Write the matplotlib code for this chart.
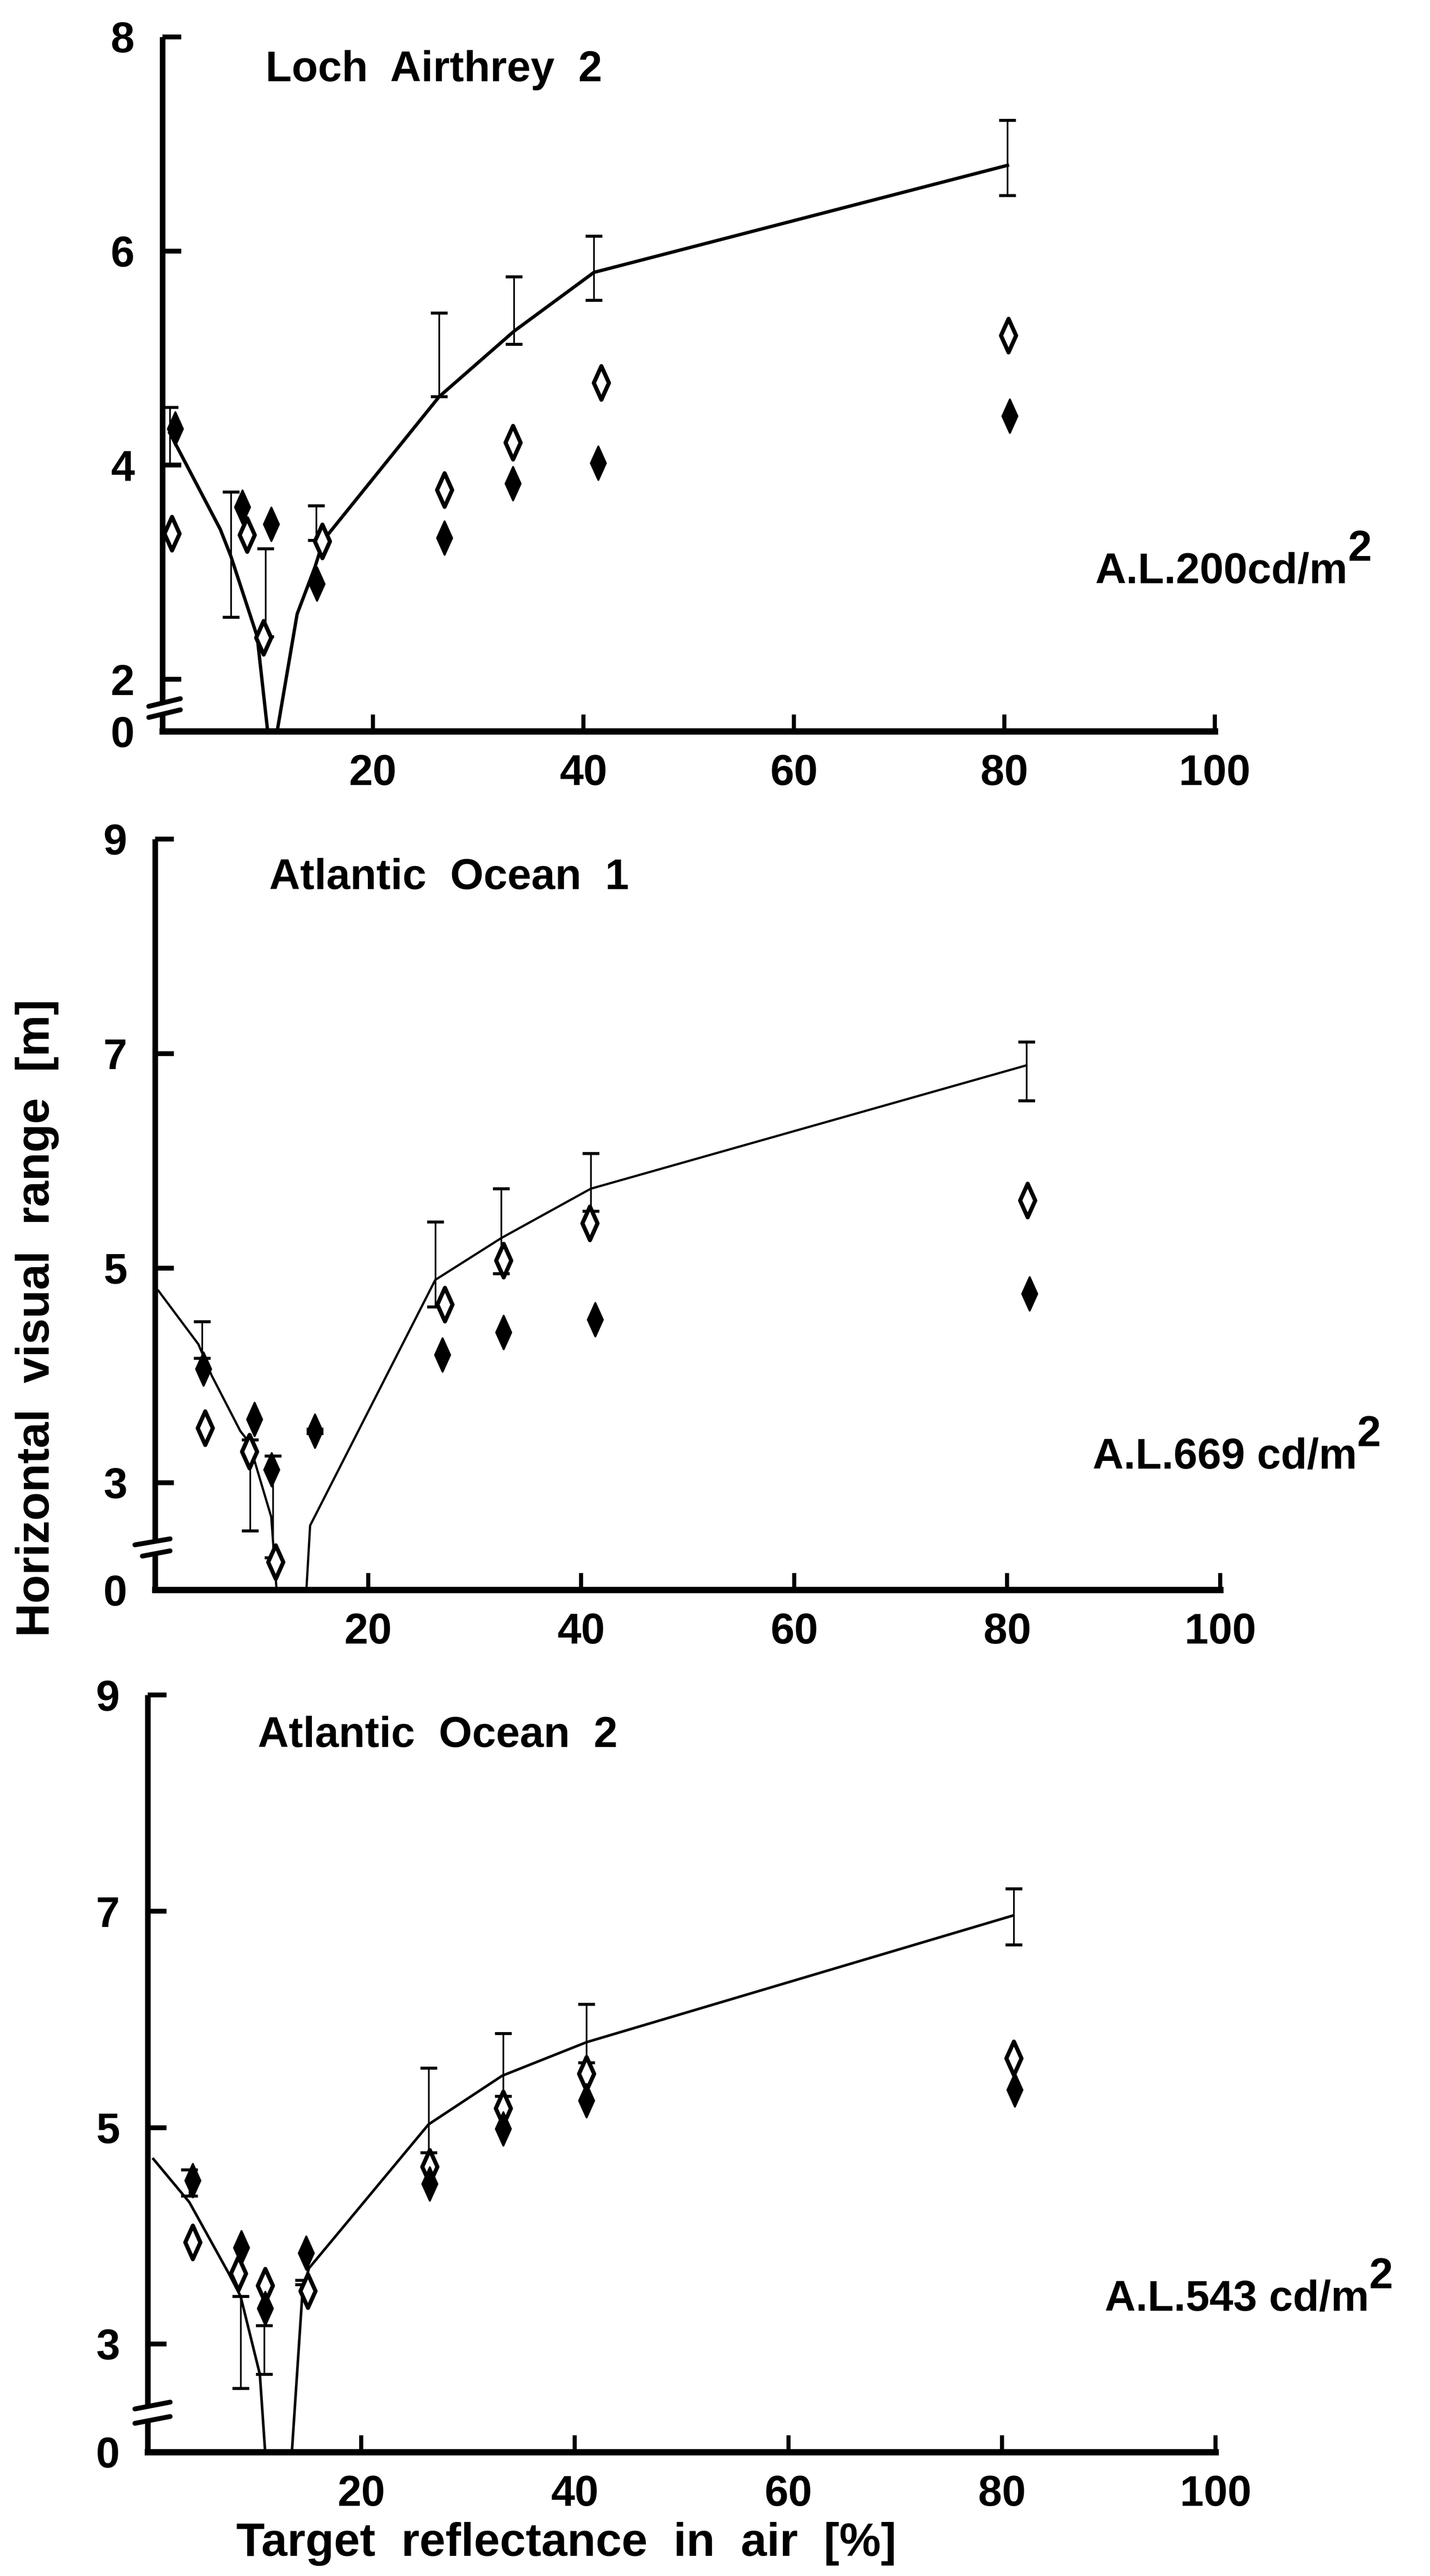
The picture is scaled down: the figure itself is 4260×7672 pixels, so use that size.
import numpy as np
import matplotlib
matplotlib.use("Agg")
import matplotlib.pyplot as plt
from matplotlib.path import Path

plt.rcParams['font.family'] = ['Liberation Sans', 'DejaVu Sans']
plt.rcParams['font.weight'] = 'bold'

# ---- data (target reflectance %, horizontal visual range m) ----
# Loch Airthrey 2
la_line_x = [0.7, 5.5, 6.5, 9.0, 10.0, 10.9, 12.8, 14.5, 15.3, 26.3, 33.4, 41.0, 80.3]
la_line_y = [4.30, 3.40, 3.15, 2.40, 0.0, 0.0, 2.61, 3.05, 3.30, 4.64, 5.25, 5.80, 6.80]
la_err_x = [0.7, 6.5, 9.8, 14.6, 26.3, 33.4, 41.0, 80.3]
la_err_lo = [4.01, 2.58, 2.40, 3.30, 4.64, 5.13, 5.54, 6.52]
la_err_hi = [4.54, 3.75, 3.22, 3.62, 5.42, 5.76, 6.14, 7.22]
la_open_x = [0.9, 8.05, 9.6, 15.2, 26.8, 33.3, 41.7, 80.4]
la_open_y = [3.36, 3.35, 2.39, 3.29, 3.77, 4.21, 4.77, 5.21]
la_fill_x = [1.2, 7.6, 10.35, 14.66, 26.8, 33.3, 41.4, 80.5]
la_fill_y = [4.34, 3.61, 3.45, 2.89, 3.32, 3.83, 4.02, 4.46]

# Atlantic Ocean 1
ao1_line_x = [0.3, 4.06, 5.3, 8.0, 8.8, 10.9, 11.4, 14.2, 14.55, 26.3, 32.5, 40.9, 81.8]
ao1_line_y = [4.79, 4.29, 4.00, 3.48, 3.38, 2.04, 0.0, 0.0, 1.80, 4.89, 5.28, 5.74, 6.89]
ao1_err_x = [4.4, 8.9, 11.06, 15.0, 26.3, 32.5, 40.9, 81.8]
ao1_err_lo = [4.16, 1.65, 0.90, 3.46, 4.64, 4.95, 5.53, 6.56]
ao1_err_hi = [4.50, 3.40, 3.25, 3.50, 5.43, 5.74, 6.07, 7.11]
ao1_open_x = [4.68, 8.84, 11.3, 27.2, 32.7, 40.8, 81.9]
ao1_open_y = [3.51, 3.29, 0.78, 4.66, 5.07, 5.42, 5.63]
ao1_fill_x = [4.54, 9.32, 10.94, 15.0, 26.97, 32.7, 41.3, 82.1]
ao1_fill_y = [4.06, 3.59, 3.12, 3.48, 4.19, 4.40, 4.52, 4.76]

# Atlantic Ocean 2
ao2_line_x = [0.53, 3.9, 7.6, 8.7, 10.5, 11.0, 13.5, 14.5, 15.1, 26.3, 33.2, 41.1, 81.0]
ao2_line_y = [4.71, 4.31, 3.65, 3.44, 2.16, 0.0, 0.0, 3.49, 3.70, 5.03, 5.48, 5.79, 6.96]
ao2_err_x = [3.9, 8.7, 10.9, 14.6, 26.3, 33.3, 41.1, 81.1]
ao2_err_lo = [4.37, 1.77, 2.16, 3.55, 4.77, 5.29, 5.60, 6.69]
ao2_err_hi = [4.61, 3.44, 3.17, 3.59, 5.55, 5.87, 6.14, 7.21]
ao2_open_x = [4.2, 8.5, 11.0, 15.0, 26.4, 33.3, 41.1, 81.1]
ao2_open_y = [3.94, 3.65, 3.54, 3.49, 4.64, 5.18, 5.50, 5.64]
ao2_fill_x = [4.2, 8.78, 11.0, 14.84, 26.4, 33.3, 41.1, 81.2]
ao2_fill_y = [4.51, 3.89, 3.33, 3.84, 4.48, 4.99, 5.25, 5.35]

titles = ['Loch  Airthrey  2', 'Atlantic  Ocean  1', 'Atlantic  Ocean  2']
lum_labels = ['A.L.200cd/m', 'A.L.669 cd/m', 'A.L.543 cd/m']
x_ticks = [20, 40, 60, 80, 100]
y_ticks = [[0, 2, 4, 6, 8], [0, 3, 5, 7, 9], [0, 3, 5, 7, 9]]


def broken_scale(b, k):
    # values below b are squeezed (axis break)
    def fwd(y):
        y = np.asarray(y, dtype=float)
        return np.where(y >= b, y, b - (b - y) * k)

    def inv(s):
        s = np.asarray(s, dtype=float)
        return np.where(s >= b, s, b - (b - s) / k)
    return fwd, inv


diamond = Path([(0, 1), (0.45, 0), (0, -1), (-0.45, 0), (0, 1)],
               [Path.MOVETO, Path.LINETO, Path.LINETO, Path.LINETO, Path.CLOSEPOLY])

fig = plt.figure(figsize=(10.65, 19.18), dpi=400)

panels = [
    dict(rect=[0.1136, 0.7161, 0.7359, 0.2696], brk=(2, 0.243), ymax=8,
         line=(la_line_x, la_line_y), err=(la_err_x, la_err_lo, la_err_hi),
         op=(la_open_x, la_open_y), fl=(la_fill_x, la_fill_y), lw=1.8,
         title_pos=(0.098, 0.952), lum_pos=(0.766, 0.778),
         breaks=[(-0.013, 0.036, 0.017, 0.047), (-0.013, 0.020, 0.017, 0.031)], gap=(0.026, 0.042)),
    dict(rect=[0.1085, 0.3828, 0.7448, 0.2915], brk=(3, 1 / 3), ymax=9,
         line=(ao1_line_x, ao1_line_y), err=(ao1_err_x, ao1_err_lo, ao1_err_hi),
         op=(ao1_open_x, ao1_open_y), fl=(ao1_fill_x, ao1_fill_y), lw=1.2,
         title_pos=(0.107, 0.948), lum_pos=(0.764, 0.4343),
         breaks=[(-0.019, 0.060, 0.014, 0.068), (-0.012, 0.045, 0.014, 0.052)], gap=(0.05, 0.065)),
    dict(rect=[0.1033, 0.0481, 0.7467, 0.2939], brk=(3, 1 / 3), ymax=9,
         line=(ao2_line_x, ao2_line_y), err=(ao2_err_x, ao2_err_lo, ao2_err_hi),
         op=(ao2_open_x, ao2_open_y), fl=(ao2_fill_x, ao2_fill_y), lw=1.4,
         title_pos=(0.103, 0.946), lum_pos=(0.7725, 0.1074),
         breaks=[(-0.012, 0.057, 0.021, 0.066), (-0.012, 0.038, 0.021, 0.047)], gap=(0.043, 0.062)),
]

for i, p in enumerate(panels):
    ax = fig.add_axes(p['rect'])
    fwd, inv = broken_scale(*p['brk'])
    ax.set_yscale('function', functions=(fwd, inv))
    ax.set_xlim(0, 100)
    ax.set_ylim(0, p['ymax'])

    ax.plot(p['line'][0], p['line'][1], color='black', lw=p['lw'], clip_on=False, zorder=3)

    ex, elo, ehi = (np.array(a) for a in p['err'])
    ax.errorbar(ex, (elo + ehi) / 2, yerr=(ehi - elo) / 2, fmt='none', ecolor='black',
                elinewidth=0.9, capsize=4.5, capthick=1.6, zorder=3)

    ax.plot(p['op'][0], p['op'][1], ls='none', marker=diamond, ms=18,
            mfc='white', mec='black', mew=2.2, zorder=4)
    ax.plot(p['fl'][0], p['fl'][1], ls='none', marker=diamond, ms=18,
            mfc='black', mec='black', mew=1.0, zorder=4)

    # axes styling
    for s in ['top', 'right', 'left']:
        ax.spines[s].set_visible(False)
    ax.spines['bottom'].set_linewidth(3.4)
    g0, g1 = p['gap']
    ax.plot([0, 0], [g1, 1], transform=ax.transAxes, color='black', lw=3.0,
            clip_on=False, solid_capstyle='butt')
    ax.plot([0, 0], [0, g0], transform=ax.transAxes, color='black', lw=3.0,
            clip_on=False, solid_capstyle='butt')
    for x0, y0, x1, y1 in p['breaks']:
        ax.plot([x0, x1], [y0, y1], transform=ax.transAxes, color='black', lw=2.6,
                clip_on=False, solid_capstyle='round')

    ax.set_xticks(x_ticks)
    ax.set_xticklabels([str(t) for t in x_ticks])
    ax.set_yticks(y_ticks[i])
    ax.set_yticklabels([str(t) for t in y_ticks[i]])
    ax.minorticks_off()
    ax.tick_params(axis='x', direction='in', length=9, width=2.2, pad=12, labelsize=23)
    ax.tick_params(axis='y', direction='in', length=10, width=2.6, pad=15, labelsize=23)
    for lab in ax.get_xticklabels() + ax.get_yticklabels():
        lab.set_fontweight('bold')

    ax.text(p['title_pos'][0], p['title_pos'][1], titles[i], transform=ax.transAxes,
            ha='left', va='center', fontsize=23, fontweight='bold')
    t = fig.text(p['lum_pos'][0], p['lum_pos'][1], lum_labels[i], ha='left', va='center',
                 fontsize=23, fontweight='bold')
    ax.annotate('2', xy=(1.0, 0.55), xycoords=t, ha='left', va='bottom',
                fontsize=23, fontweight='bold', annotation_clip=False)

fig.text(0.026, 0.4883, 'Horizontal  visual  range  [m]', rotation=90, ha='center', va='center',
         fontsize=25, fontweight='bold')
fig.text(0.396, 0.0125, 'Target  reflectance  in  air  [%]', ha='center', va='center',
         fontsize=25, fontweight='bold')

fig.savefig('out.png', dpi=400, facecolor='white')
